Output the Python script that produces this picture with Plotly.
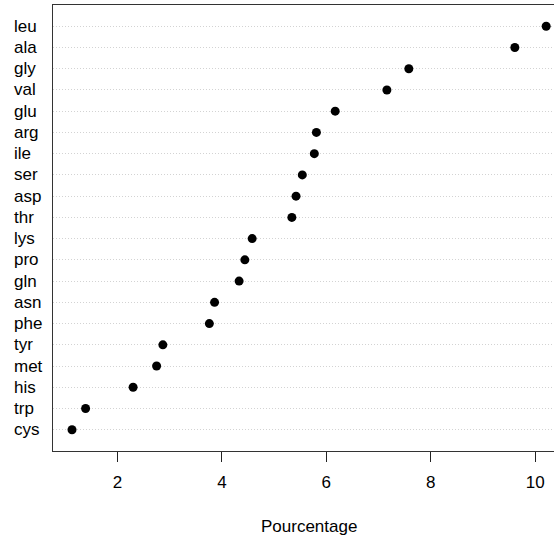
import plotly.graph_objects as go

# Amino acid composition (%), listed top to bottom
acides = ["leu", "ala", "gly", "val", "glu", "arg", "ile", "ser", "asp", "thr",
          "lys", "pro", "gln", "asn", "phe", "tyr", "met", "his", "trp", "cys"]
pourcentages = [10.21, 9.61, 7.58, 7.16, 6.17, 5.81, 5.77, 5.54, 5.42, 5.34,
                4.58, 4.44, 4.33, 3.86, 3.76, 2.87, 2.75, 2.30, 1.39, 1.13]
x_ticks = [2, 4, 6, 8, 10]

n = len(acides)
rangs = [n - i for i in range(n)]  # top row gets the highest position

FONT = "Liberation Sans, Arial, sans-serif"

fig = go.Figure()
fig.add_trace(go.Scatter(
    x=pourcentages, y=rangs, mode="markers",
    marker=dict(color="black", size=9, line=dict(width=0)),
    hoverinfo="skip", showlegend=False,
))

# Row labels, left-aligned in the margin
for nom, r in zip(acides, rangs):
    fig.add_annotation(
        x=-0.0818, xref="paper", y=r, yref="y", text=nom, showarrow=False,
        xanchor="left", yanchor="middle",
        font=dict(family=FONT, size=17, color="black"),
    )

fig.add_annotation(
    x=0.511, xref="paper", y=-0.170, yref="paper", text="Pourcentage",
    showarrow=False, xanchor="center", yanchor="middle",
    font=dict(family=FONT, size=17, color="black"),
)

fig.update_layout(
    width=554, height=540,
    margin=dict(l=53, r=0, t=5, b=89),
    paper_bgcolor="white", plot_bgcolor="white",
    xaxis=dict(
        range=[0.766, 10.36], tickvals=x_ticks, ticks="outside", ticklen=10,
        tickcolor="#222", tickwidth=1, showgrid=False, zeroline=False,
        showline=True, linecolor="#333", linewidth=1, mirror=True,
        ticklabelstandoff=6,
        tickfont=dict(family=FONT, size=17, color="black"),
    ),
    yaxis=dict(
        range=[0, n + 1], tickvals=rangs, showticklabels=False, ticks="",
        showgrid=True, gridcolor="lightgray", griddash="1px,2px", gridwidth=1,
        zeroline=False, showline=True, linecolor="#333", linewidth=1,
    ),
)

fig.write_html("out.html")
